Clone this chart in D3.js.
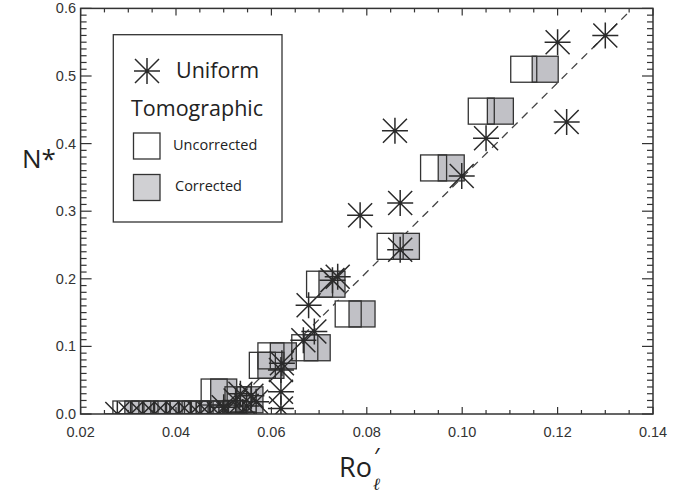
<!DOCTYPE html>
<html>
<head>
<meta charset="utf-8">
<script src="https://cdn.jsdelivr.net/npm/d3@7"></script>
<style>
  html, body { margin: 0; padding: 0; background: #fff; }
  svg { display: block; }
</style>
</head>
<body>
<svg id="chart" width="683" height="496"></svg>
<script>
// Uniform runs: (Ro'_l, N*)
const uniformRo = [0.0277, 0.0305, 0.0330, 0.0355, 0.0380, 0.0405, 0.0430, 0.0450, 0.0470, 0.0490, 0.0510,
                   0.0500, 0.0525, 0.0535, 0.0548, 0.0558, 0.0568, 0.0540,
                   0.0620, 0.0620, 0.0620, 0.0622,
                   0.0667, 0.0690, 0.0678, 0.0728, 0.0739,
                   0.0786, 0.0870, 0.0870, 0.0859, 0.0999, 0.1050, 0.1200, 0.1300, 0.1219];
const uniformN  = [0.000, 0.000, 0.000, 0.000, 0.000, 0.000, 0.000, 0.000, 0.000, 0.000, 0.000,
                   0.010, 0.020, 0.030, 0.012, 0.027, 0.018, 0.003,
                   0.008, 0.033, 0.065, 0.075,
                   0.109, 0.122, 0.161, 0.198, 0.203,
                   0.294, 0.243, 0.312, 0.419, 0.352, 0.408, 0.550, 0.560, 0.432];

// Tomographic runs: same N*, Ro'_l before and after correction
const tomoN           = [0.510, 0.448, 0.364, 0.248, 0.148, 0.192, 0.098, 0.086, 0.072, 0.0325, 0.021,
                         0.000, 0.000, 0.000, 0.000, 0.000, 0.000];
const tomoRoUncorr    = [0.1129, 0.1040, 0.0940, 0.0849, 0.0761, 0.0701, 0.0670, 0.0599, 0.0581, 0.0480, 0.0530,
                         0.0295, 0.0335, 0.0380, 0.0415, 0.0445, 0.0480];
const tomoRoCorr      = [0.1174, 0.1080, 0.0977, 0.0883, 0.0790, 0.0727, 0.0696, 0.0625, 0.0599, 0.0500, 0.0555,
                         0.0320, 0.0360, 0.0405, 0.0440, 0.0470, 0.0505];

// Linear fit (dashed)
const fitRo = [0.050, 0.135];
const fitN  = [0.000, 0.595];

const roTicks = [0.02, 0.04, 0.06, 0.08, 0.10, 0.12, 0.14];
const nTicks  = [0.0, 0.1, 0.2, 0.3, 0.4, 0.5, 0.6];
const roTickLabels = ["0.02", "0.04", "0.06", "0.08", "0.10", "0.12", "0.14"];
const nTickLabels  = ["0.0", "0.1", "0.2", "0.3", "0.4", "0.5", "0.6"];

(function draw() {
  const svg = d3.select("#chart");
  const pL = 80.6, pR = 653, pT = 8.4, pB = 414;

  const x = d3.scaleLinear().domain([0.02, 0.14]).range([pL, pR]);
  const y = d3.scaleLinear().domain([0, 0.6]).range([pB, pT]);

  const ink = "#2a2a2a";
  const grayFill = "#c1c1c6";
  const SQ = 26;      // square marker side
  const AR = 13;      // asterisk arm

  svg.append("defs").append("clipPath").attr("id", "plotClip")
    .append("rect").attr("x", pL).attr("y", pT)
    .attr("width", pR - pL).attr("height", pB - pT);

  const plot = svg.append("g").attr("clip-path", "url(#plotClip)");

  // dashed fit line
  plot.append("line")
    .attr("x1", x(fitRo[0])).attr("y1", y(fitN[0]))
    .attr("x2", x(fitRo[1])).attr("y2", y(fitN[1]))
    .attr("stroke", "#444").attr("stroke-width", 1.3)
    .attr("stroke-dasharray", "8,6");

  const tomo = tomoN.map((n, i) => ({ n, ru: tomoRoUncorr[i], rc: tomoRoCorr[i] }));

  // square fills first, outlines on top so every edge stays visible
  plot.append("g").selectAll("rect").data(tomo).join("rect")
    .attr("x", d => x(d.ru) - SQ / 2).attr("y", d => y(d.n) - SQ / 2)
    .attr("width", SQ).attr("height", SQ)
    .attr("fill", "#fff");
  plot.append("g").selectAll("rect").data(tomo).join("rect")
    .attr("x", d => x(d.rc) - SQ / 2).attr("y", d => y(d.n) - SQ / 2)
    .attr("width", SQ).attr("height", SQ)
    .attr("fill", grayFill);
  plot.append("g").selectAll("rect")
    .data(tomo.flatMap(d => [{ r: d.ru, n: d.n }, { r: d.rc, n: d.n }])).join("rect")
    .attr("x", d => x(d.r) - SQ / 2).attr("y", d => y(d.n) - SQ / 2)
    .attr("width", SQ).attr("height", SQ)
    .attr("fill", "none").attr("stroke", "#333").attr("stroke-width", 1.3);

  // asterisk marker
  const d2 = AR - 1;
  const starPath = `M${-AR},0H${AR}M0,${-AR}V${AR}M${-d2},${-d2}L${d2},${d2}M${-d2},${d2}L${d2},${-d2}`;

  plot.append("g").selectAll("path").data(uniformRo.map((r, i) => ({ r, n: uniformN[i] }))).join("path")
    .attr("transform", d => `translate(${x(d.r)},${y(d.n)})`)
    .attr("d", starPath)
    .attr("fill", "none").attr("stroke", ink).attr("stroke-width", 1.5);

  // frame
  svg.append("rect").attr("x", pL).attr("y", pT)
    .attr("width", pR - pL).attr("height", pB - pT)
    .attr("fill", "none").attr("stroke", "#333").attr("stroke-width", 1.5);

  // ticks (inward, on all four sides)
  const roMinor = d3.range(0.02, 0.14001, 0.005);
  const nMinor = d3.range(0, 0.6001, 0.01);
  const isMajor = (v, step) => Math.abs(v / step - Math.round(v / step)) < 1e-6;

  const tk = svg.append("g").attr("stroke", "#333").attr("stroke-width", 1.2);
  roMinor.forEach(v => {
    const len = isMajor(v, 0.02) ? 7 : 4;
    tk.append("line").attr("x1", x(v)).attr("x2", x(v)).attr("y1", pB).attr("y2", pB - len);
    tk.append("line").attr("x1", x(v)).attr("x2", x(v)).attr("y1", pT).attr("y2", pT + len);
  });
  nMinor.forEach(v => {
    const len = isMajor(v, 0.1) ? 11 : 6;
    tk.append("line").attr("y1", y(v)).attr("y2", y(v)).attr("x1", pL).attr("x2", pL + len);
    tk.append("line").attr("y1", y(v)).attr("y2", y(v)).attr("x1", pR).attr("x2", pR - len);
  });

  // tick labels
  const tickFont = "'Liberation Sans', Arial, sans-serif";
  svg.append("g").selectAll("text").data(roTicks).join("text")
    .attr("x", d => x(d)).attr("y", 437)
    .attr("text-anchor", "middle")
    .attr("font-family", tickFont).attr("font-size", 14.5).attr("fill", "#333")
    .text((d, i) => roTickLabels[i]);
  svg.append("g").selectAll("text").data(nTicks).join("text")
    .attr("x", 76).attr("y", d => y(d) + 5)
    .attr("text-anchor", "end")
    .attr("font-family", tickFont).attr("font-size", 14.5).attr("fill", "#333")
    .text((d, i) => nTickLabels[i]);

  // axis titles
  const titleFont = "'Open Sans', 'Noto Sans', sans-serif";
  svg.append("text").attr("x", 22).attr("y", 168)
    .attr("font-family", titleFont).attr("font-size", 26).attr("fill", "#222")
    .text("N*");
  svg.append("text").attr("x", 339).attr("y", 477)
    .attr("font-family", titleFont).attr("font-size", 27).attr("fill", "#222")
    .text("Ro");
  svg.append("text").attr("x", 374).attr("y", 465)
    .attr("font-family", titleFont).attr("font-size", 24).attr("fill", "#222").text("′");
  svg.append("text").attr("x", 373).attr("y", 490)
    .attr("font-family", "'DejaVu Serif', serif").attr("font-style", "italic")
    .attr("font-size", 17).attr("fill", "#222").text("ℓ");

  // legend
  const lg = svg.append("g");
  lg.append("rect").attr("x", 113.3).attr("y", 34.7).attr("width", 168.7).attr("height", 187.3)
    .attr("fill", "#fff").attr("stroke", "#333").attr("stroke-width", 1.3);
  lg.append("path").attr("transform", "translate(147,71)").attr("d", starPath)
    .attr("fill", "none").attr("stroke", ink).attr("stroke-width", 1.5);
  lg.append("text").attr("x", 176).attr("y", 78)
    .attr("font-family", titleFont).attr("font-size", 21.5).attr("fill", "#222").text("Uniform");
  lg.append("text").attr("x", 131).attr("y", 116)
    .attr("font-family", titleFont).attr("font-size", 21.5).attr("fill", "#222").text("Tomographic");
  lg.append("rect").attr("x", 133.5).attr("y", 133).attr("width", 26.5).attr("height", 26)
    .attr("fill", "#fff").attr("stroke", "#333").attr("stroke-width", 1.3);
  lg.append("text").attr("x", 173).attr("y", 150)
    .attr("font-family", titleFont).attr("font-size", 14.5).attr("fill", "#222").text("Uncorrected");
  lg.append("rect").attr("x", 133.5).attr("y", 174.5).attr("width", 26.5).attr("height", 26)
    .attr("fill", "#d0d0d3").attr("stroke", "#333").attr("stroke-width", 1.3);
  lg.append("text").attr("x", 175).attr("y", 191)
    .attr("font-family", titleFont).attr("font-size", 14.5).attr("fill", "#222").text("Corrected");
})();
</script>
</body>
</html>
